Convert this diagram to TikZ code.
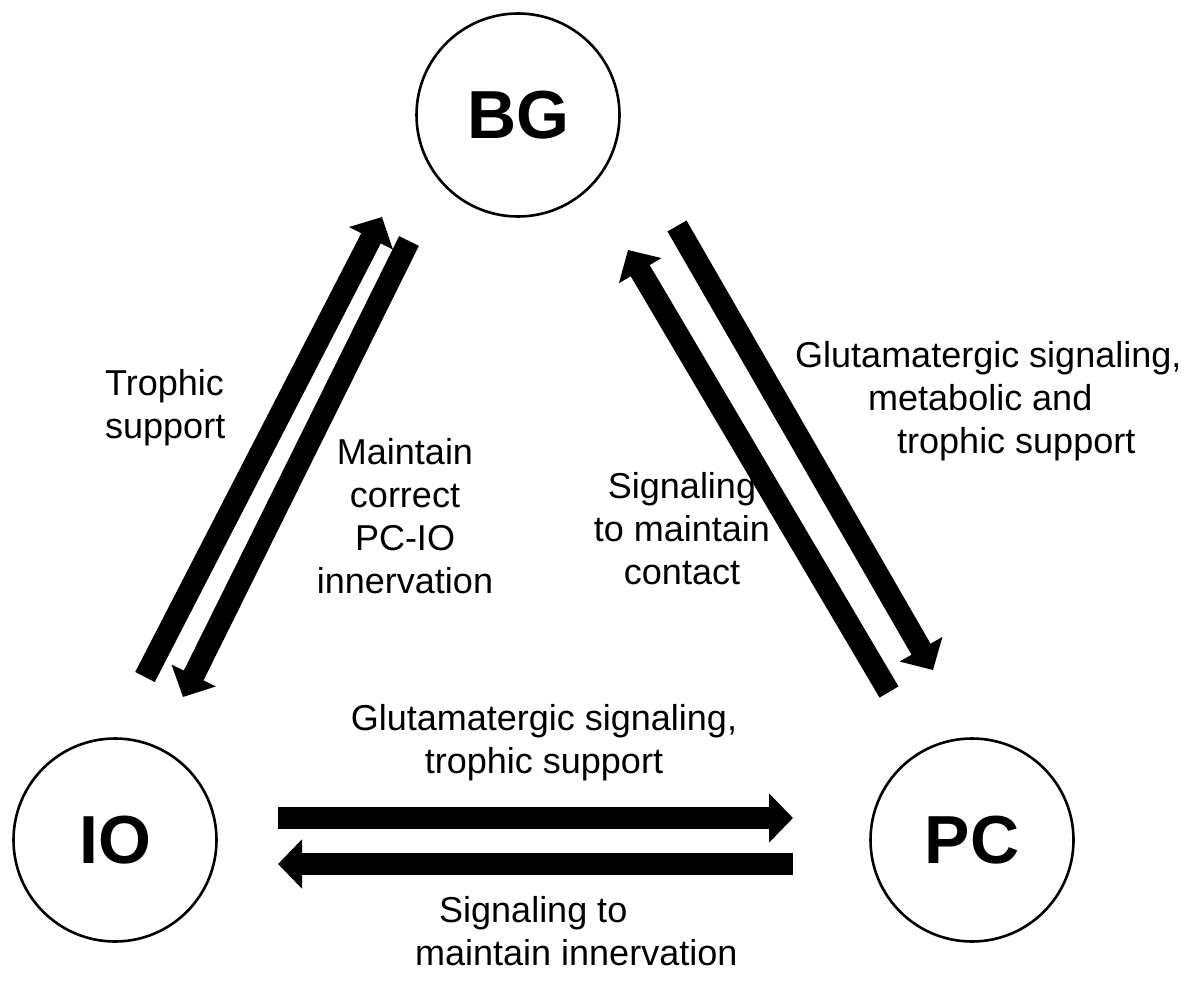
\documentclass[tikz,border=0pt]{standalone}
\usepackage{fontspec}
\setmainfont{Liberation Sans}
\usetikzlibrary{arrows.meta}
\begin{document}
\begin{tikzpicture}[x=1pt,y=-1pt,
  cell/.style={circle, draw, line width=2.6pt, minimum size=203pt, inner sep=0pt,
    font=\fontsize{68}{68}\selectfont\bfseries},
  lbl/.style={inner sep=0pt, font=\fontsize{36}{43}\selectfont},
  fat/.style={line width=22pt, -{Triangle[length=24pt,width=48pt]}}]
\useasboundingbox (0,0) rectangle (1190,981);
\node[cell] (BG) at (518,115) {BG};
\node[cell] (IO) at (115,840) {IO};
\node[cell] (PC) at (972,840) {PC};
% arrow end points
\coordinate (a1s) at (145,677); \coordinate (a1e) at (382,217);
\coordinate (a2s) at (409,241); \coordinate (a2e) at (183,697);
\coordinate (a3s) at (889,692); \coordinate (a3e) at (628,250);
\coordinate (a4s) at (677,226); \coordinate (a4e) at (933,670);
\coordinate (a5s) at (278,818); \coordinate (a5e) at (793,818);
\coordinate (a6s) at (793,864); \coordinate (a6e) at (278,864);
\draw[fat] (a1s) -- (a1e);
\draw[fat] (a2s) -- (a2e);
\draw[fat] (a3s) -- (a3e);
\draw[fat] (a4s) -- (a4e);
\draw[fat] (a5s) -- (a5e);
\draw[fat] (a6s) -- (a6e);
% labels (base anchor = baseline of last line)
\node[lbl, anchor=base west, align=left] (l1) at (105,438) {Trophic\\support};
\node[lbl, anchor=base, align=center] (l2) at (405,593) {Maintain\\correct\\PC-IO\\innervation};
\node[lbl, anchor=base, align=center] (l3) at (682,584) {Signaling\\to maintain\\contact};
\node[lbl, anchor=base west, align=left] (l4) at (795,453) {Glutamatergic signaling,\\\hspace*{73pt}metabolic and\\\hspace*{102pt}trophic support};
\node[lbl, anchor=base, align=center] (l5) at (544,773) {Glutamatergic signaling,\\trophic support};
\node[lbl, anchor=base west, align=left] (l6) at (415,965) {\hspace*{24pt}Signaling to\\maintain innervation};
\end{tikzpicture}
\end{document}
